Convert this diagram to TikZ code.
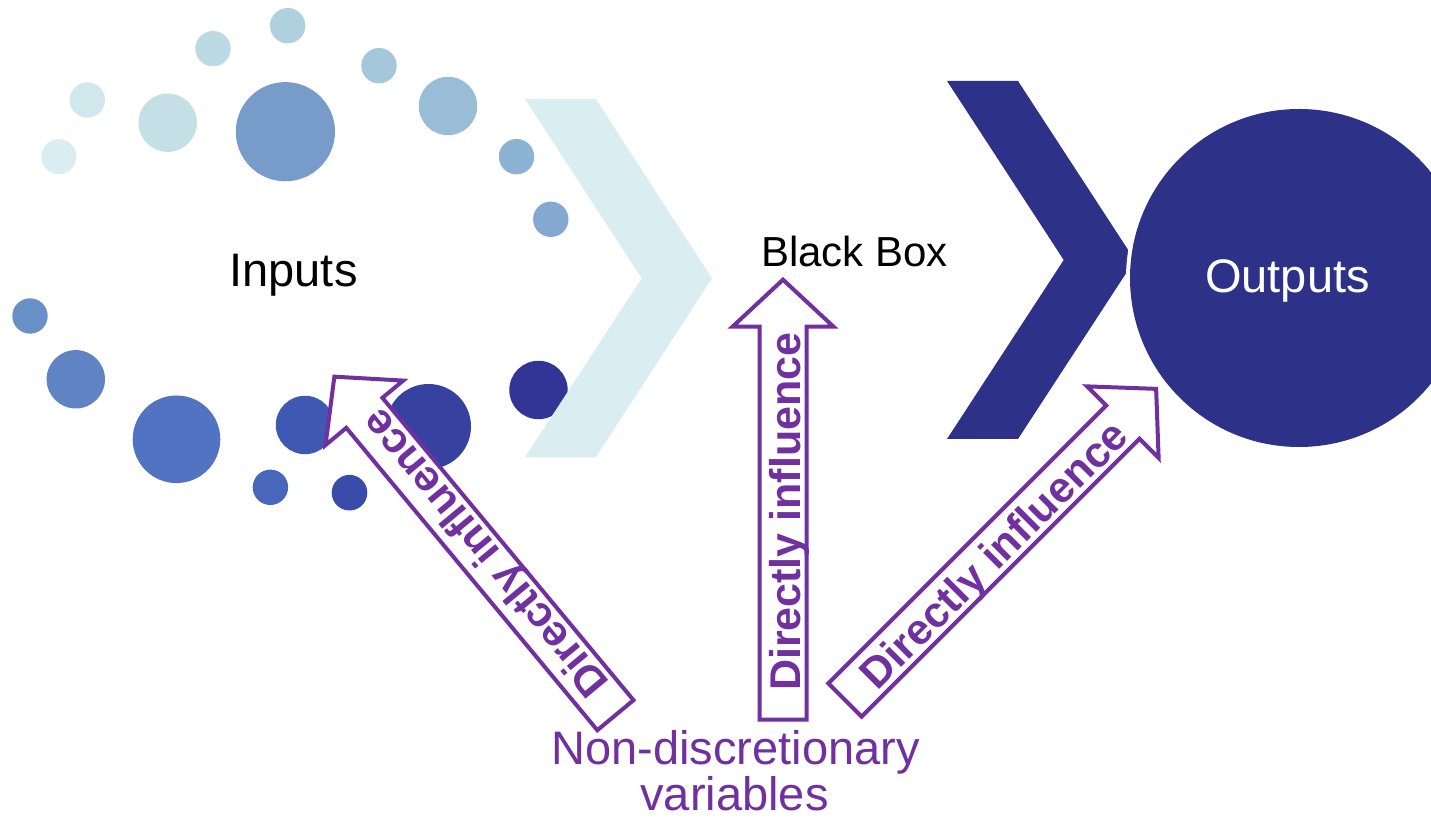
\documentclass[tikz,border=0pt]{standalone}
\usepackage{fontspec}
\setmainfont{Liberation Sans}
\definecolor{navy}{HTML}{2E3188}
\definecolor{paleteal}{HTML}{DAEDF0}
\definecolor{vpurple}{HTML}{7030A0}
\definecolor{dotA}{HTML}{DAEDF0}
\definecolor{dotB}{HTML}{D0E8EC}
\definecolor{dotC}{HTML}{C5DFE6}
\definecolor{dotD}{HTML}{BCDAE3}
\definecolor{dotE}{HTML}{AFD0DF}
\definecolor{dotF}{HTML}{779CC9}
\definecolor{dotG}{HTML}{A5C7DB}
\definecolor{dotH}{HTML}{99BDD7}
\definecolor{dotI}{HTML}{8DB3D4}
\definecolor{dotJ}{HTML}{84A8D0}
\definecolor{dotK}{HTML}{6A90C8}
\definecolor{dotL}{HTML}{6083C4}
\definecolor{dotM}{HTML}{5273C1}
\definecolor{dotN}{HTML}{4866BC}
\definecolor{dotO}{HTML}{3F58B2}
\definecolor{dotP}{HTML}{3A4CA9}
\definecolor{dotQ}{HTML}{3641A0}
\definecolor{dotR}{HTML}{323595}
\tikzset{
  arrowbox/.style={draw=vpurple, line width=4pt, fill=white, line join=miter},
  dirtext/.style={text=vpurple, font=\bfseries\fontsize{43}{43}\selectfont, inner sep=0pt, anchor=base, transform shape},
  bigtext/.style={font=\fontsize{47}{47}\selectfont, inner sep=0pt, anchor=base},
}
\newcommand{\infarrow}[4]{%
  \begin{scope}[shift={(#1,#2)}, rotate=#3]
    \draw[arrowbox] (0,-23.5) -- (393,-23.5) -- (393,-50.5) -- (440,0) -- (393,50.5) -- (393,23.5) -- (0,23.5) -- cycle;
    \node[dirtext] (#4) at (208,-17) {Directly influence};
  \end{scope}}
\begin{document}
\begin{tikzpicture}[x=1pt,y=1pt]
\useasboundingbox (0,0) rectangle (1431,818);
\fill[white] (0,0) rectangle (1431,818);
% dots
\foreach \px/\py/\r/\c in {
  58.8/661.3/17.5/dotA, 87.3/718/17.7/dotB, 167.7/695.3/29.2/dotC, 213/769.3/17.7/dotD,
  287.7/792.3/17.7/dotE, 285.4/686.3/49.6/dotF, 379/752.3/17.7/dotG, 448/712/29.2/dotH,
  516.5/661.3/17.7/dotI, 550.8/598.7/17.7/dotJ, 30/502/17.7/dotK, 75.8/438.7/29.2/dotL,
  176.5/378.7/43.8/dotM, 270.4/330.7/17.7/dotN, 305/393/29.2/dotO, 349.5/325.3/17.8/dotP,
  428.5/391.5/42.5/dotQ, 538.5/428/29.2/dotR}
  \fill[fill=\c] (\px,\py) circle (\r);
% light chevron
\fill[paleteal] (525,719) -- (595.7,719) -- (712,539.7) -- (595.7,360.7) -- (525,360.7) -- (641.7,539.7) -- cycle;
% dark chevron
\fill[navy] (947,737) -- (1018,737) -- (1134.7,558) -- (1018,379) -- (947,379) -- (1063.7,558) -- cycle;
% outputs circle
\fill[white] (1299,540) circle (173);
\fill[navy] (1299,540) circle (169);
% labels
\node[bigtext] (inputs) at (293.5,531) {Inputs};
\node[bigtext, font=\fontsize{42}{42}\selectfont] (blackbox) at (854.6,551.3) {Black Box};
\node[bigtext, text=white] (outputs) at (1287.5,525) {Outputs};
\node[bigtext, text=vpurple] (nd1) at (735.5,53) {Non-discretionary};
\node[bigtext, text=vpurple] (nd2) at (734.5,7) {variables};
% block arrows
\infarrow{615.4}{102.8}{129.7}{da}
\infarrow{783}{98.3}{90}{db}
\infarrow{845}{118}{45}{dc}
\end{tikzpicture}
\end{document}
